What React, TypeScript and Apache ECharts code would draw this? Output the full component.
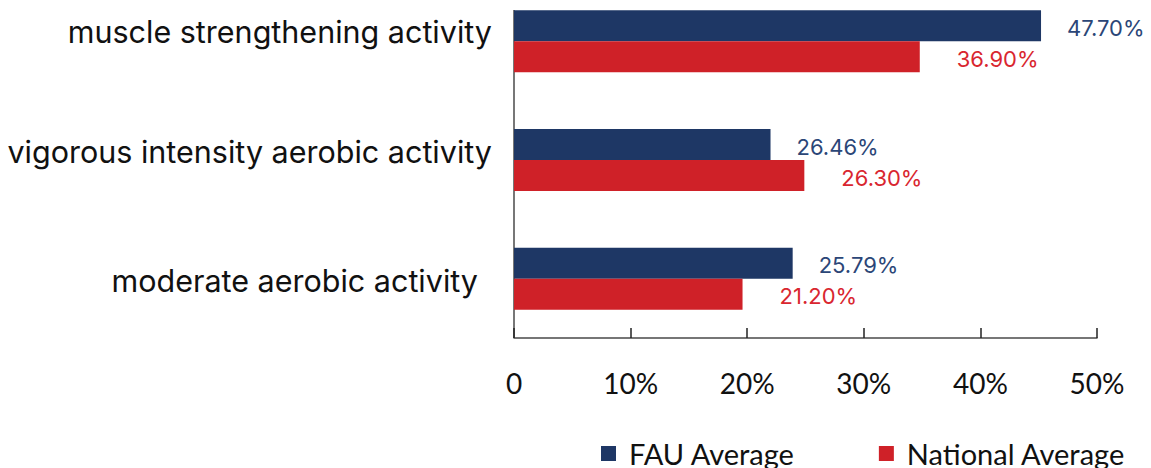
import React, { useEffect, useRef } from "react";
import * as echarts from "echarts";

const categories = [
  "muscle strengthening activity",
  "vigorous intensity aerobic activity",
  "moderate aerobic activity",
];
const seriesNames = ["FAU Average", "National Average"];
// bar lengths as drawn in the picture (percent)
const fauBars = [45.2, 22.0, 23.9];
const nationalBars = [34.8, 24.9, 19.6];
// value labels printed next to the bars
const fauLabels = ["47.70%", "26.46%", "25.79%"];
const nationalLabels = ["36.90%", "26.30%", "21.20%"];
const axisMin = 0;
const axisMax = 50;
const axisStep = 10;

const NAVY = "#1e3765";
const RED = "#cf2128";
const NAVY_TEXT = "#2b4677";
const RED_TEXT = "#d9262f";

// the chart canvas starts above the page so the first category band is clipped, as in the reference
const SHIFT = 18;

export default function App() {
  const ref = useRef<HTMLDivElement>(null);
  useEffect(() => {
    document.body.style.margin = "0";
    const chart = echarts.init(ref.current!, null, { renderer: "svg" });
    const richKeys = ["a", "b", "c"];
    const catFont = 30.5;
    chart.setOption({
      animation: false,
      backgroundColor: "#ffffff",
      grid: {
        left: 514,
        right: 54,
        top: 0,
        height: 338 + SHIFT,
        containLabel: false,
        outerBoundsMode: "none",
      },
      legend: {
        data: seriesNames,
        left: 596,
        top: 434 + SHIFT,
        itemWidth: 15,
        itemHeight: 15,
        itemGap: 84,
        icon: "rect",
        textStyle: {
          fontFamily: "Lato",
          fontSize: 29,
          color: "#111",
          padding: [0, 0, 0, 8],
        },
      },
      xAxis: {
        type: "value",
        min: axisMin,
        max: axisMax,
        interval: axisStep,
        splitLine: { show: false },
        axisLine: { show: true, lineStyle: { color: "#4a4a4a", width: 1.5 } },
        axisTick: { show: true, inside: true, length: 10, lineStyle: { color: "#222", width: 1.5 } },
        axisLabel: {
          margin: 31,
          fontFamily: "Lato",
          fontSize: 28,
          color: "#111",
          formatter: (v: number) => (v === 0 ? "0" : `${v}%`),
        },
      },
      yAxis: {
        type: "category",
        data: categories,
        inverse: true,
        axisLine: { show: false },
        axisTick: { show: false },
        axisLabel: {
          margin: 22,
          fontFamily: "Inter",
          fontSize: catFont,
          color: "#111",
          formatter: (v: string) => {
            const i = categories.indexOf(v);
            return `{${richKeys[i]}|${v}}`;
          },
          rich: {
            a: { fontFamily: "Inter", fontSize: catFont, color: "#111", padding: [0, 0, 19, 0] },
            b: { fontFamily: "Inter", fontSize: catFont, color: "#111", padding: [0, 0, 18, 0] },
            c: { fontFamily: "Inter", fontSize: catFont, color: "#111", padding: [4, 14, 0, 0] },
          },
        },
      },
      graphic: [
        {
          type: "line",
          shape: { x1: 514, y1: 10 + SHIFT, x2: 514, y2: 338 + SHIFT },
          style: { stroke: "#4a4a4a", lineWidth: 1.5 },
          silent: true,
        },
      ],
      series: [
        {
          name: seriesNames[0],
          type: "bar",
          data: fauBars,
          barWidth: 31,
          barGap: "0%",
          itemStyle: { color: NAVY },
          label: {
            show: true,
            position: "right",
            distance: 26,
            offset: [0, 2],
            fontFamily: "Inter",
            fontSize: 22,
            color: NAVY_TEXT,
            formatter: (p: any) => fauLabels[p.dataIndex],
          },
        },
        {
          name: seriesNames[1],
          type: "bar",
          data: nationalBars,
          barWidth: 31,
          barGap: "0%",
          itemStyle: { color: RED },
          label: {
            show: true,
            position: "right",
            distance: 37,
            offset: [0, 2],
            fontFamily: "Inter",
            fontSize: 22,
            color: RED_TEXT,
            formatter: (p: any) => nationalLabels[p.dataIndex],
          },
        },
      ],
    });
    return () => chart.dispose();
  }, []);
  return (
    <div
      ref={ref}
      style={{ position: "fixed", left: 0, top: -SHIFT, width: 1151, height: 468 + SHIFT }}
    />
  );
}
